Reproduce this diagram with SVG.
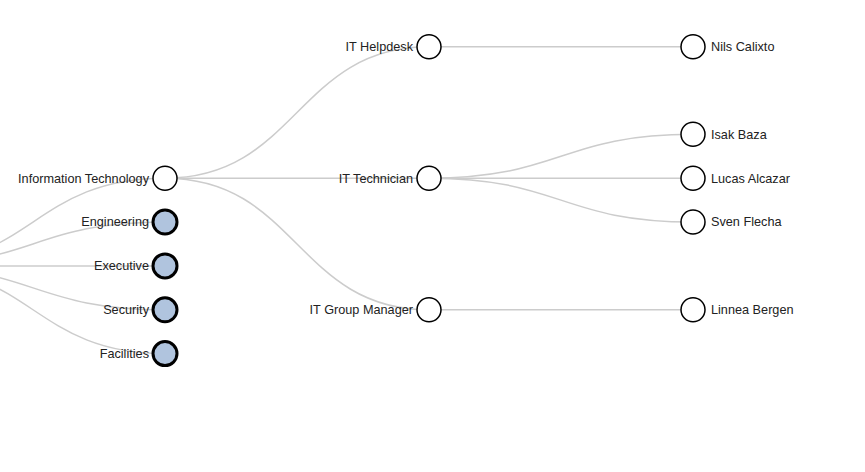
<svg xmlns="http://www.w3.org/2000/svg" width="865" height="472" viewBox="0 0 865 472">
<style>
.link{fill:none;stroke:#ccc;stroke-width:1.5px}
circle{fill:#fff;stroke:#000;stroke-width:1.5px}
.collapsed circle{fill:#b0c4de;stroke-width:3px}
text{font-family:"Liberation Sans",Arial,sans-serif;font-size:12.7px;fill:#222}
.e{text-anchor:end}
</style>
<rect width="865" height="472" fill="#fff"/>
<g id="links" transform="translate(0,0.6)">
<path class="link" d="M-99,265.3C33,265.3 33,177.6 165,177.6"/>
<path class="link" d="M-99,265.3C33,265.3 33,221.4 165,221.4"/>
<path class="link" d="M-99,265.3C33,265.3 33,265.3 165,265.3"/>
<path class="link" d="M-99,265.3C33,265.3 33,309.2 165,309.2"/>
<path class="link" d="M-99,265.3C33,265.3 33,353 165,353"/>
<path class="link" d="M165,177.6C297,177.6 297,46.2 429,46.2"/>
<path class="link" d="M165,177.6C297,177.6 297,177.6 429,177.6"/>
<path class="link" d="M165,177.6C297,177.6 297,309.2 429,309.2"/>
<path class="link" d="M429,46.2C561,46.2 561,46.2 693,46.2"/>
<path class="link" d="M429,177.6C561,177.6 561,133.7 693,133.7"/>
<path class="link" d="M429,177.6C561,177.6 561,177.6 693,177.6"/>
<path class="link" d="M429,177.6C561,177.6 561,221.4 693,221.4"/>
<path class="link" d="M429,309.2C561,309.2 561,309.2 693,309.2"/>
</g>
<g transform="translate(0,0.6)">
<g id="n-it"><circle cx="165" cy="177.6" r="12"/><text class="e" x="149" y="182">Information Technology</text></g>
<g id="n-eng" class="collapsed"><circle cx="165" cy="221.4" r="12"/><text class="e" x="149" y="225.8">Engineering</text></g>
<g id="n-exec" class="collapsed"><circle cx="165" cy="265.3" r="12"/><text class="e" x="149" y="269.7">Executive</text></g>
<g id="n-sec" class="collapsed"><circle cx="165" cy="309.2" r="12"/><text class="e" x="149" y="313.6">Security</text></g>
<g id="n-fac" class="collapsed"><circle cx="165" cy="353" r="12"/><text class="e" x="149" y="357.4">Facilities</text></g>
<g id="n-helpdesk"><circle cx="429" cy="46.2" r="12"/><text class="e" x="413" y="50.6">IT Helpdesk</text></g>
<g id="n-tech"><circle cx="429" cy="177.6" r="12"/><text class="e" x="413" y="182">IT Technician</text></g>
<g id="n-gm"><circle cx="429" cy="309.2" r="12"/><text class="e" x="413" y="313.6">IT Group Manager</text></g>
<g id="n-nils"><circle cx="693" cy="46.2" r="12"/><text x="711" y="50.6">Nils Calixto</text></g>
<g id="n-isak"><circle cx="693" cy="133.7" r="12"/><text x="711" y="138.1">Isak Baza</text></g>
<g id="n-lucas"><circle cx="693" cy="177.6" r="12"/><text x="711" y="182">Lucas Alcazar</text></g>
<g id="n-sven"><circle cx="693" cy="221.4" r="12"/><text x="711" y="225.8">Sven Flecha</text></g>
<g id="n-linnea"><circle cx="693" cy="309.2" r="12"/><text x="711" y="313.6">Linnea Bergen</text></g>
</g>
</svg>
